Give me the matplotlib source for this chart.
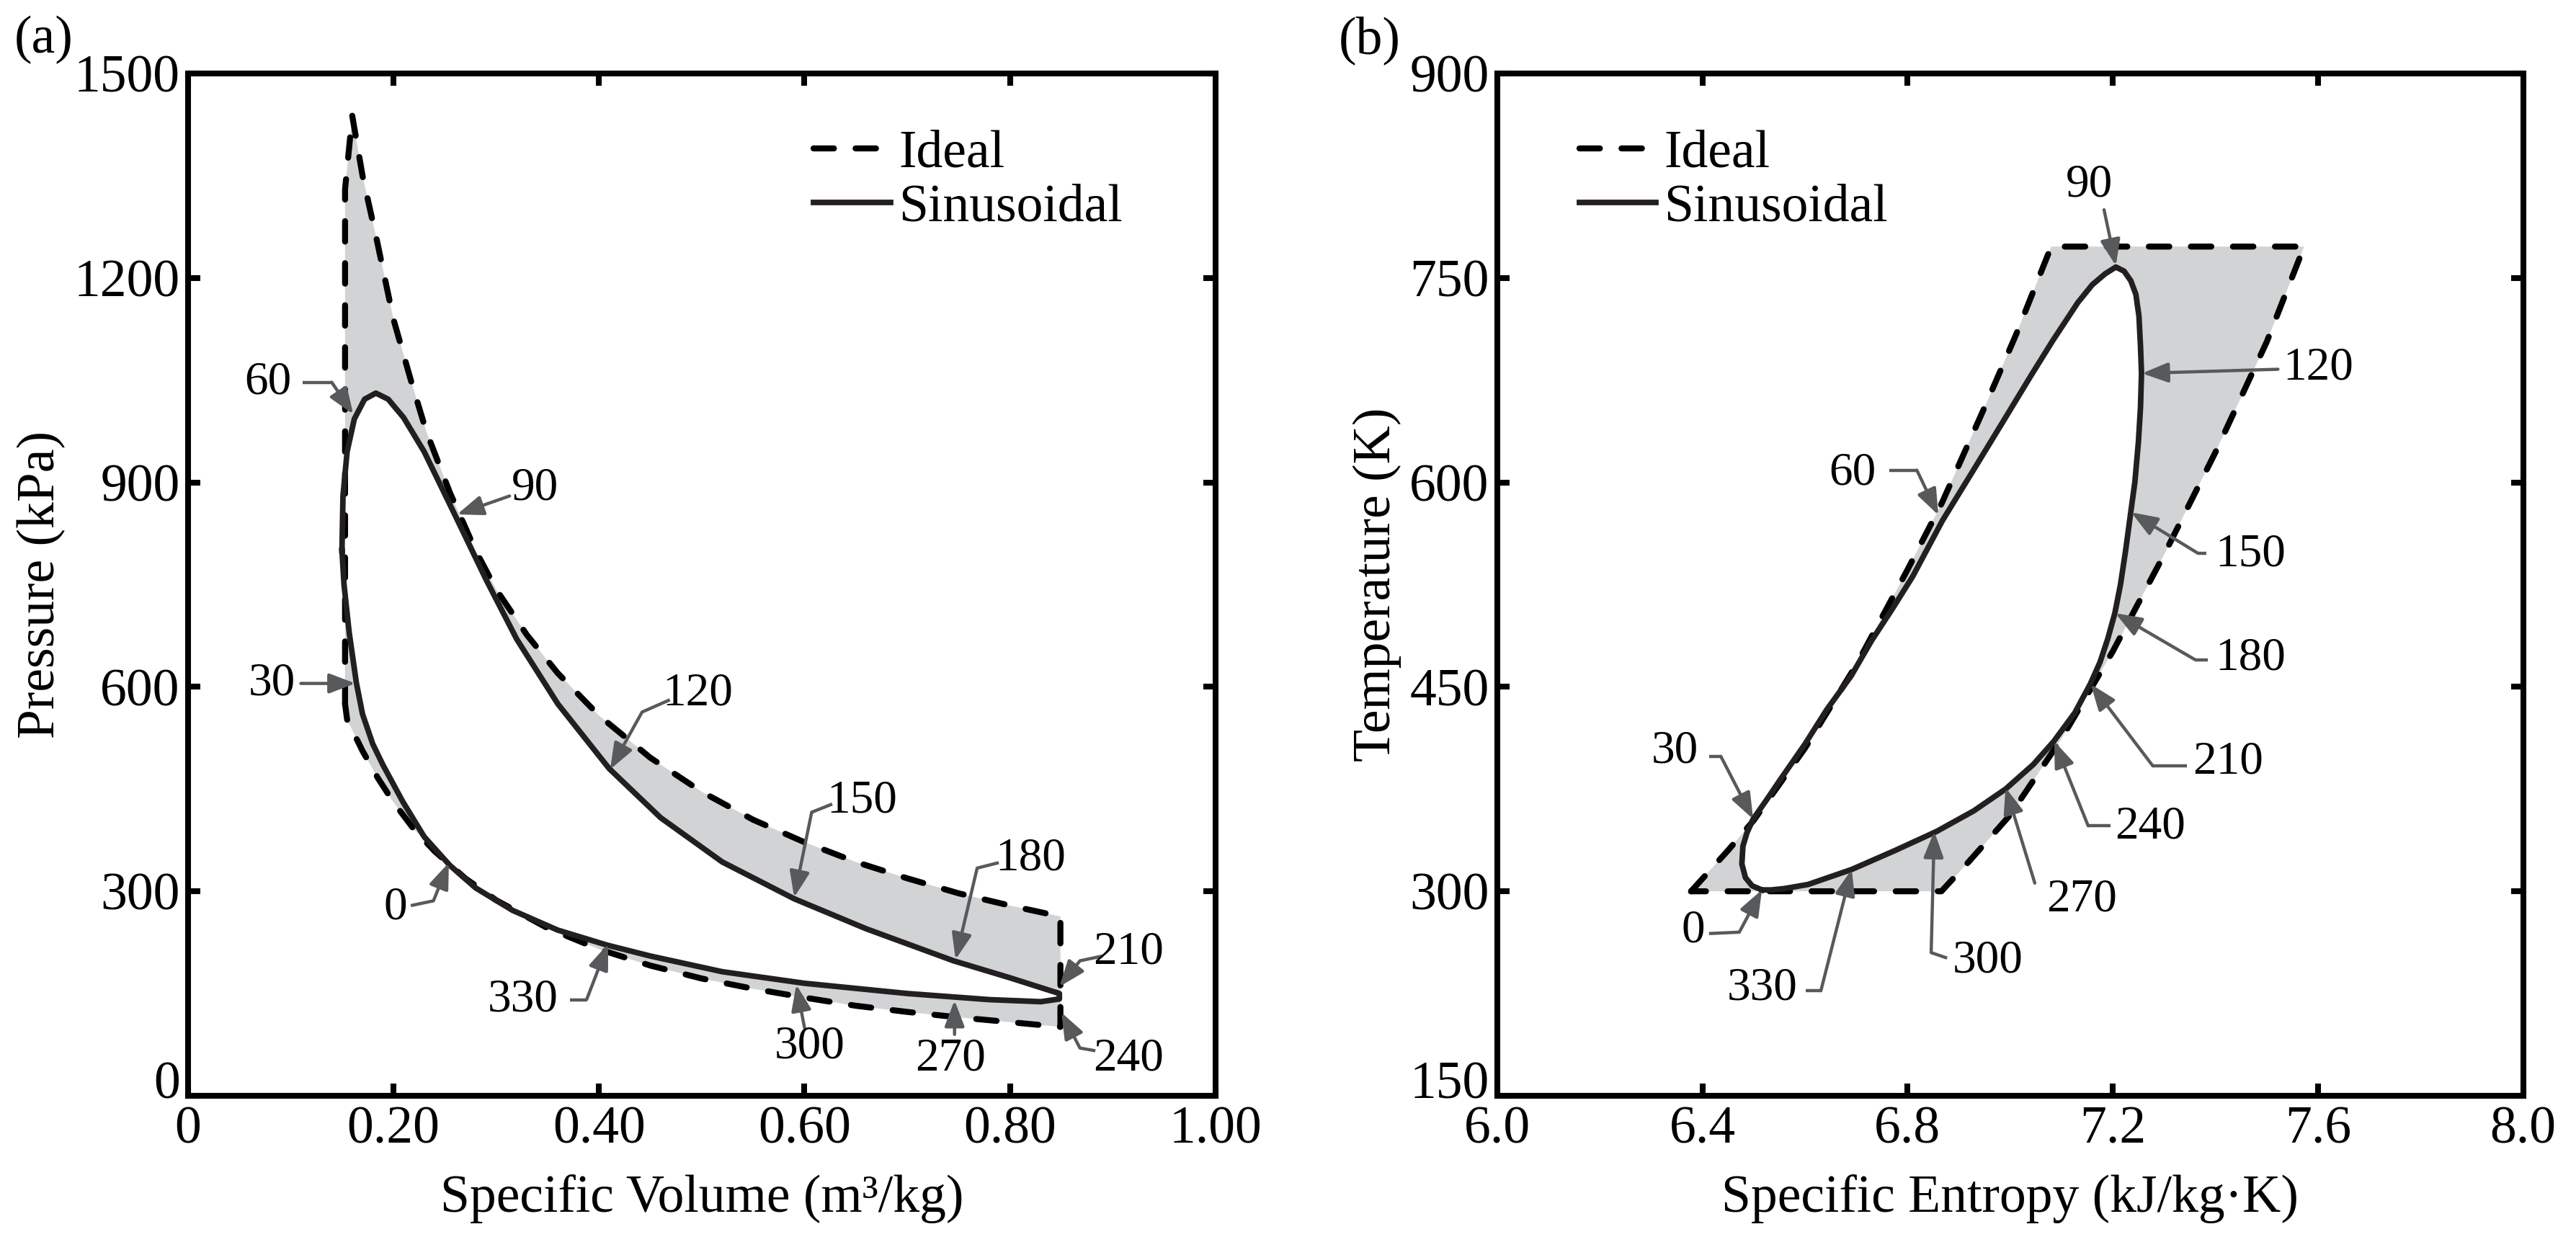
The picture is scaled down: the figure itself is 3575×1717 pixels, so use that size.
import numpy as np
import matplotlib
matplotlib.use('Agg')
import matplotlib.pyplot as plt
from matplotlib.transforms import ScaledTranslation

plt.rcParams['font.family'] = ['Liberation Serif', 'DejaVu Serif']

# ---- (a) P-v diagram ----
# ideal cycle (closed), specific volume m3/kg and pressure kPa
ideal_v = [0.153, 0.153, 0.160, 0.170, 0.184, 0.200, 0.217, 0.232, 0.255, 0.280,
           0.300, 0.330, 0.360, 0.400, 0.450, 0.500, 0.550, 0.600, 0.650, 0.700,
           0.750, 0.800, 0.849, 0.849, 0.800, 0.750, 0.700, 0.650, 0.600, 0.550,
           0.500, 0.450, 0.400, 0.350, 0.300, 0.270, 0.240, 0.220, 0.200, 0.185,
           0.170, 0.155, 0.153]
ideal_p = [575, 1330, 1438, 1350, 1255, 1140, 1050, 975, 885, 800,
           743, 676, 620, 558, 496, 446, 405, 372, 343, 319,
           297, 279, 263, 101, 108, 115, 123, 132, 144, 157,
           172, 191, 215, 246, 287, 319, 359, 391, 431, 466,
           506, 552, 575]

# sinusoidal cycle (closed)
sin_v = [0.150, 0.151, 0.155, 0.162, 0.172, 0.183, 0.195, 0.210, 0.230, 0.260,
         0.290, 0.320, 0.360, 0.410, 0.460, 0.520, 0.590, 0.660, 0.745, 0.800,
         0.848, 0.848, 0.830, 0.780, 0.700, 0.600, 0.520, 0.450, 0.408, 0.360,
         0.316, 0.280, 0.255, 0.230, 0.209, 0.190, 0.180, 0.170, 0.164, 0.157,
         0.152, 0.150]
sin_p = [800, 880, 945, 993, 1022, 1031, 1022, 995, 945, 852,
         758, 670, 575, 480, 408, 343, 289, 245, 198, 173,
         150, 142, 138, 141, 150, 165, 182, 205, 221, 243,
         272, 305, 338, 380, 432, 485, 516, 560, 606, 680,
         750, 800]

# ---- (b) T-s diagram ----
ideal_s = [6.378, 6.450, 6.500, 6.600, 6.700, 6.800, 6.867, 6.950, 7.011, 7.080,
           7.573, 7.500, 7.400, 7.300, 7.200, 7.100, 7.000, 6.920, 6.866, 6.378]
ideal_t = [300, 330, 352, 405, 466, 536, 585, 655, 708, 773,
           773, 703, 622, 547, 476, 412, 356, 322, 300, 300]

sin_s = [6.516, 6.497, 6.484, 6.477, 6.479, 6.487, 6.499, 6.525, 6.552, 6.600,
         6.642, 6.690, 6.730, 6.770, 6.810, 6.868, 6.930, 6.990, 7.040, 7.083,
         7.132, 7.160, 7.185, 7.206, 7.222, 7.235, 7.245, 7.251, 7.254, 7.256,
         7.254, 7.250, 7.243, 7.235, 7.225, 7.215, 7.204, 7.190, 7.175, 7.156,
         7.126, 7.085, 7.045, 6.991, 6.929, 6.857, 6.776, 6.691, 6.606, 6.560,
         6.534, 6.516]
sin_t = [301, 304, 310, 320, 333, 343, 353, 367, 382, 408,
         433, 458, 484, 507, 531, 572, 610, 647, 678, 704,
         732, 745, 753, 758, 755, 748, 738, 722, 700, 680,
         655, 630, 600, 578, 550, 525, 504, 485, 468, 452,
         431, 410, 393, 375, 359, 344, 330, 316, 305, 302,
         301, 301]

# crank-angle callouts: label, text pos, tail start, elbow (or None), arrow tip
pv_notes = [
    ('0',   (0.202, 276), (0.217, 279), (0.239, 286), (0.254, 342)),
    ('30',  (0.082, 605), (0.110, 605), None, (0.163, 605)),
    ('60',  (0.078, 1047), (0.112, 1047), (0.140, 1047), (0.161, 1000)),
    ('90',  (0.338, 891), (0.313, 880), None, (0.262, 853)),
    ('120', (0.496, 590), (0.469, 581), (0.442, 563), (0.411, 479)),
    ('150', (0.656, 433), (0.627, 428), (0.607, 416), (0.590, 291)),
    ('180', (0.820, 348), (0.789, 342), (0.768, 334), (0.747, 200)),
    ('210', (0.915, 211), (0.890, 205), (0.868, 198), (0.848, 160)),
    ('240', (0.915, 54), (0.883, 66), (0.868, 70), (0.850, 122)),
    ('270', (0.742, 54), (0.746, 90), None, (0.746, 140)),
    ('300', (0.605, 72), (0.600, 100), None, (0.592, 163)),
    ('330', (0.326, 141), (0.372, 141), (0.388, 141), (0.409, 223)),
]
ts_notes = [
    ('0',   (6.382, 271), (6.413, 269), (6.472, 270), (6.516, 301)),
    ('30',  (6.346, 403), (6.413, 399), (6.436, 399), (6.499, 353)),
    ('60',  (6.693, 607), (6.765, 609), (6.818, 609), (6.860, 576)),
    ('90',  (7.154, 818), (7.183, 800), None, (7.206, 759)),
    ('120', (7.601, 684), (7.522, 683), None, (7.257, 680)),
    ('150', (7.468, 547), (7.382, 548), (7.366, 548), (7.236, 578)),
    ('180', (7.468, 471), (7.385, 470), (7.360, 470), (7.205, 504)),
    ('210', (7.425, 395), (7.345, 392), (7.278, 392), (7.157, 452)),
    ('240', (7.273, 347), (7.196, 348), (7.152, 348), (7.086, 410)),
    ('270', (7.139, 294), (7.048, 306), None, (6.991, 376)),
    ('300', (6.956, 249), (6.877, 251), (6.846, 255), (6.852, 344)),
    ('330', (6.516, 229), (6.602, 227), (6.631, 227), (6.691, 316)),
]

GRAY_FILL = '#d1d3d4'
ARROW = '#58595b'
FS = 26.5
NOTE_FS = 23.5


def draw_panel(ax, ix, iy, sx, sy, notes):
    ax.fill(ix, iy, color=GRAY_FILL, lw=0, zorder=1)
    ax.fill(sx, sy, color='white', lw=0, zorder=2)
    ax.plot(ix, iy, color='black', lw=3.0, ls=(0, (3.4, 3.6)),
            dash_capstyle='round', zorder=3, label='Ideal')
    ax.plot(sx, sy, color='#231f20', lw=2.8, zorder=3, label='Sinusoidal')
    for lab, txy, tail, elbow, tip in notes:
        start = tail
        if elbow is not None:
            ax.plot([tail[0], elbow[0]], [tail[1], elbow[1]], color=ARROW,
                    lw=1.6, solid_capstyle='butt', zorder=4)
            start = elbow
        ax.annotate('', xy=tip, xytext=start, zorder=4,
                    arrowprops=dict(arrowstyle='-|>,head_length=1.1,head_width=0.42',
                                    color=ARROW, lw=1.6, shrinkA=0, shrinkB=0,
                                    mutation_scale=10))
        ax.text(txy[0], txy[1], lab, fontsize=NOTE_FS, ha='center', va='center', zorder=5)
    for sp in ax.spines.values():
        sp.set_linewidth(2.9)
    ax.tick_params(direction='in', length=6, width=2.9, top=True, right=True,
                   labelsize=FS)
    ax.tick_params(axis='x', pad=5)
    ax.tick_params(axis='y', pad=4)
    ax.legend(loc='upper left', frameon=False, fontsize=FS, handlelength=1.45,
              handletextpad=0.15, labelspacing=0.1, borderpad=0, borderaxespad=0,
              bbox_to_anchor=(0.08, 0.945))


fig = plt.figure(figsize=(17.875, 8.585), dpi=200)
ax1 = fig.add_axes([0.0729, 0.1142, 0.399, 0.8264])
ax2 = fig.add_axes([0.5812, 0.1142, 0.3983, 0.8264])

draw_panel(ax1, ideal_v, ideal_p, sin_v, sin_p, pv_notes)
ax1.legend_.set_bbox_to_anchor((0.609, 0.945))
ax1.set_xlim(0, 1.0)
ax1.set_ylim(0, 1500)
ax1.set_xticks([0, 0.2, 0.4, 0.6, 0.8, 1.0])
ax1.set_xticklabels(['0', '0.20', '0.40', '0.60', '0.80', '1.00'])
ax1.set_yticks([0, 300, 600, 900, 1200, 1500])
ax1.set_xlabel('Specific Volume (m³/kg)', fontsize=FS, labelpad=10)
ax1.set_ylabel('Pressure (kPa)', fontsize=FS, labelpad=4)

draw_panel(ax2, ideal_s, ideal_t, sin_s, sin_t, ts_notes)
ax2.set_xlim(6.0, 8.0)
ax2.set_ylim(150, 900)
ax2.set_xticks([6.0, 6.4, 6.8, 7.2, 7.6, 8.0])
ax2.set_xticklabels(['6.0', '6.4', '6.8', '7.2', '7.6', '8.0'])
ax2.set_yticks([150, 300, 450, 600, 750, 900])
ax2.set_xlabel('Specific Entropy (kJ/kg·K)', fontsize=FS, labelpad=10)
ax2.set_ylabel('Temperature (K)', fontsize=FS, labelpad=4)

# bottom y tick label sits a bit above the corner in the original
lift = ScaledTranslation(0, 8 / 72, fig.dpi_scale_trans)
for ax in (ax1, ax2):
    lab = ax.get_yticklabels()[0]
    lab.set_transform(lab.get_transform() + lift)

fig.text(20 / 3575, 1 - 22 / 1717, '(a)', fontsize=FS, ha='left', va='top')
fig.text(1858 / 3575, 1 - 22 / 1717, '(b)', fontsize=FS, ha='left', va='top')

fig.savefig('out.png', dpi=200)
